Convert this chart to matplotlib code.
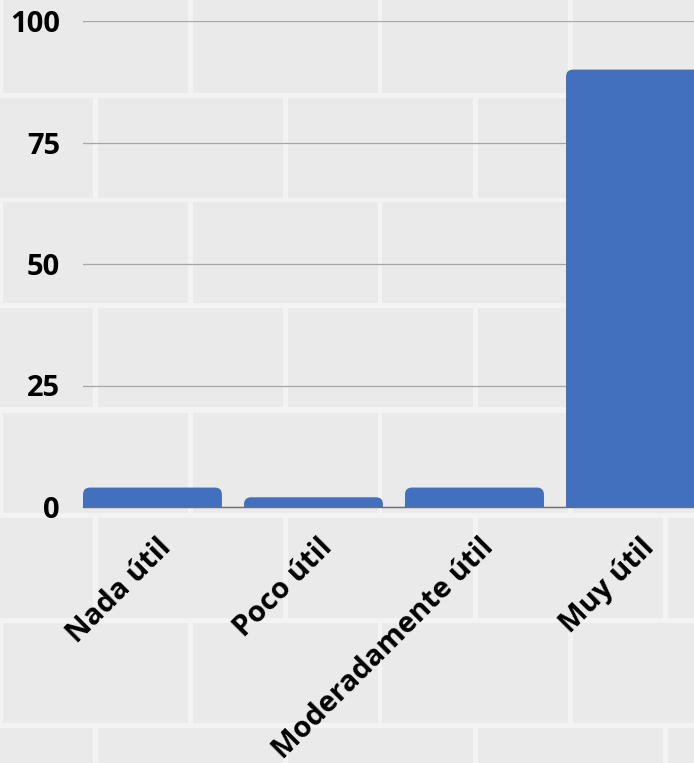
import matplotlib.pyplot as plt
from matplotlib.patches import FancyBboxPatch, Rectangle
from matplotlib.transforms import ScaledTranslation

# ---------------- DATA ---------------- #
categories = ["Nada útil", "Poco útil", "Moderadamente útil", "Muy útil"]
values = [4, 2, 4, 90]
y_ticks = [0, 25, 50, 75, 100]

BAR_COLOR = "#4370be"
W, H, DPI = 694, 763, 100

plt.rcParams['font.family'] = ['Open Sans', 'DejaVu Sans']


def draw_bricks(fig):
    """Light brick-wall background drawn in figure pixels."""
    fig.patch.set_facecolor("#f3f3f3")
    row_h, brick_w, gap = 105, 190, 5
    row = 0
    y_top = -10
    while y_top < H:
        shift = 0 if row % 2 == 0 else brick_w / 2
        x = -brick_w + shift
        while x < W:
            r = Rectangle(((x + gap / 2) / W, 1 - (y_top + row_h - gap / 2) / H),
                          (brick_w - gap) / W, (row_h - gap) / H,
                          transform=fig.transFigure, facecolor="#eaeaea",
                          edgecolor="none", zorder=-10)
            fig.add_artist(r)
            x += brick_w
        y_top += row_h
        row += 1


def create_chart(output_filename="out.png"):
    fig = plt.figure(figsize=(W / DPI, H / DPI), dpi=DPI)
    draw_bricks(fig)

    ax = fig.add_axes([83 / W, 1 - 507 / H, 1 - 83 / W, (507 - 21) / H])
    ax.set_facecolor("none")

    x = range(len(categories))
    width = 0.863
    bars = ax.bar(x, values, width=width, color=BAR_COLOR, zorder=3)

    # rounded top corners (bottom pushed under the axis line)
    x_px = 161.0
    y_px = (507 - 21) / 100.0
    r = 7 / x_px
    for b in bars:
        b.set_visible(False)
        fb = FancyBboxPatch((b.get_x(), -5), b.get_width(), b.get_height() + 5,
                            boxstyle=f"round,pad=0,rounding_size={r}",
                            mutation_aspect=x_px / y_px,
                            facecolor=BAR_COLOR, edgecolor="none", zorder=3)
        ax.add_patch(fb)

    ax.set_xlim(-width / 2, (W - 152.5) / x_px)
    ax.set_ylim(0, 100)
    ax.set_yticks(y_ticks)
    ax.yaxis.grid(True, color="#a6a6a6", linewidth=0.9, zorder=0)
    ax.set_axisbelow(True)

    for s in ["top", "right", "left"]:
        ax.spines[s].set_visible(False)
    ax.spines["bottom"].set_color("#6e6e6e")
    ax.spines["bottom"].set_linewidth(1.0)
    ax.spines["bottom"].set_zorder(4)

    ax.tick_params(axis="y", length=0, pad=16.5, labelsize=21)
    ax.tick_params(axis="x", length=0, pad=0, labelsize=21)
    for lab in ax.get_yticklabels():
        lab.set_fontweight("bold")

    ax.set_xticks(list(x))
    ax.set_xticklabels(categories, rotation=45, ha="right", va="center",
                       rotation_mode="anchor", fontweight="bold")
    offset = ScaledTranslation(15 / DPI, -36 / DPI, fig.dpi_scale_trans)
    for lab in ax.get_xticklabels():
        lab.set_transform(lab.get_transform() + offset)

    fig.savefig(output_filename, dpi=DPI)
    return output_filename


if __name__ == "__main__":
    create_chart()
